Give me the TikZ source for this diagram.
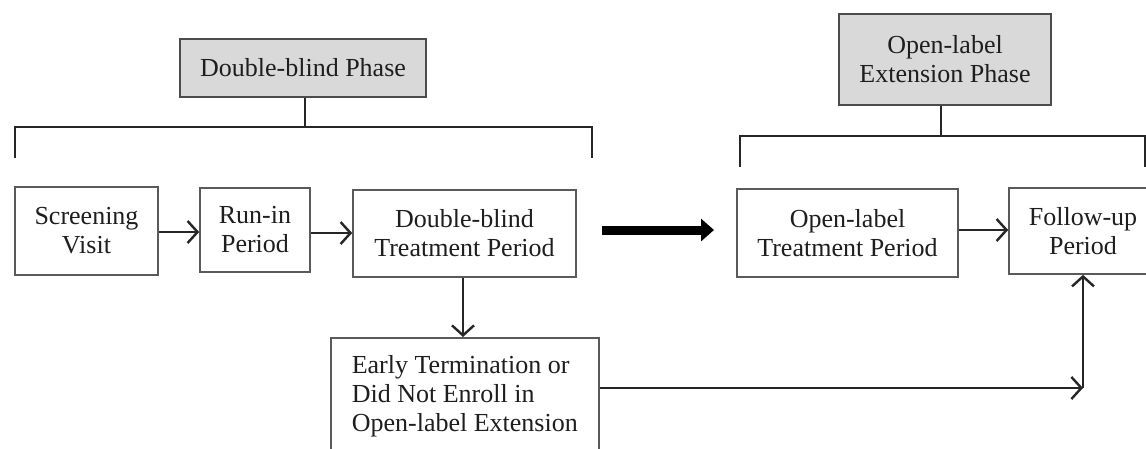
\documentclass[tikz,border=0pt]{standalone}
\usepackage{fontspec}
\setmainfont{Liberation Serif}
\usetikzlibrary{arrows.meta}
\definecolor{txt}{HTML}{1E1E1E}
\definecolor{boxline}{HTML}{5A5A5A}
\definecolor{phasefill}{HTML}{D9D9D9}
\tikzset{
  stagebox/.style={draw=boxline, line width=1.6pt, align=center, text=txt,
    inner sep=0pt, font=\fontsize{26}{29}\selectfont},
  phasebox/.style={stagebox, fill=phasefill, draw=black!70, line width=2.2pt},
  brace/.style={draw=black!85, line width=2.8pt},
  flow/.style={draw=black!85, line width=2.4pt, -{Straight Barb[length=10pt,width=22pt,line width=2.4pt]}},
  bigflow/.style={draw=black, line width=9pt, -{Triangle[length=13pt,width=22pt]}}
}
\begin{document}
\begin{tikzpicture}[x=1pt,y=-1pt]
\clip (0,0) rectangle (1146,448);
\fill[white] (0,0) rectangle (1146,448);

% phase headers
\node[phasebox, minimum width=246pt, minimum height=58pt] (dbphase) at (303,68) {Double-blind Phase};
\node[phasebox, minimum width=212pt, minimum height=91pt] (olphase) at (945,59.5) {Open-label\\Extension Phase};

% brackets
\coordinate (b1) at (305,127);
\coordinate (b1l) at (15,127);
\coordinate (b1r) at (592,127);
\draw[brace] (dbphase.south -| b1) -- (b1);
\draw[brace, line cap=rect] ([yshift=-30pt]b1l) -- (b1l) -- (b1r) -- ([yshift=-30pt]b1r);

\coordinate (b2) at (941,136);
\coordinate (b2l) at (740,136);
\coordinate (b2r) at (1145,136);
\draw[brace] (olphase.south -| b2) -- (b2);
\draw[brace, line cap=rect] ([yshift=-30pt]b2l) -- (b2l) -- (b2r) -- ([yshift=-30pt]b2r);

% stages
\node[stagebox, minimum width=143pt, minimum height=88pt] (screen) at (86.5,231) {Screening\\Visit};
\node[stagebox, minimum width=110pt, minimum height=84pt] (runin) at (255,230) {Run-in\\Period};
\node[stagebox, minimum width=223pt, minimum height=87pt] (dbtreat) at (464.5,233.5) {Double-blind\\Treatment Period};
\node[stagebox, minimum width=221pt, minimum height=88pt] (oltreat) at (847.5,233) {Open-label\\Treatment Period};
\node[stagebox, minimum width=148pt, minimum height=86pt] (follow) at (1083,231) {Follow-up\\Period};
\node[stagebox, anchor=north west, align=left, minimum width=268pt, inner ysep=18pt] (early) at (330,337)
  {Early Termination or\\Did Not Enroll in\\Open-label Extension};

% connectors
\draw[flow] (screen.east |- 0,232) -- (runin.west |- 0,232);
\draw[flow] (runin.east |- 0,233) -- (dbtreat.west |- 0,233);
\draw[flow] (dbtreat.south -| 463,0) -- (early.north -| 463,0);
\draw[flow] (oltreat.east |- 0,230) -- (follow.west |- 0,230);

\coordinate (bigA) at (602,230);
\coordinate (bigB) at (714,230);
\draw[bigflow] (bigA) -- (bigB);

\coordinate (corner) at (1083,388);
\draw[flow] (early.east |- corner) -- (corner);
\draw[flow] (corner) -- (follow.south);
\end{tikzpicture}
\end{document}
